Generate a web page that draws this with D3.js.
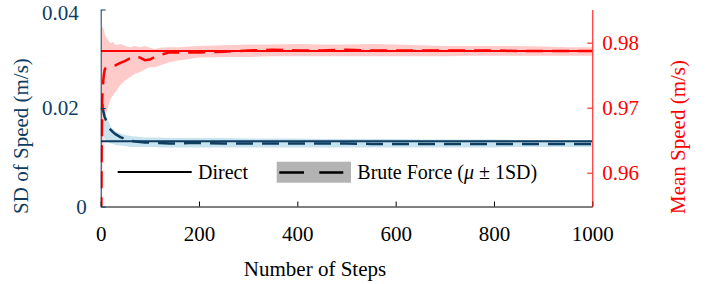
<!DOCTYPE html>
<html>
<head>
<meta charset="utf-8">
<script src="https://cdn.jsdelivr.net/npm/d3@7"></script>
<style>
  body { margin: 0; background: white; }
  svg text { font-family: "Liberation Serif", Tinos, "Times New Roman", Times, "DejaVu Serif", serif; }
</style>
</head>
<body>
<div id="vis"></div>
<script>
// steps of the brute force run
let steps = [1, 2, 3, 4, 6, 8, 10, 15, 20, 25, 30, 40, 50, 60, 70, 80, 90, 100, 110, 120,
  140, 160, 180, 200, 250, 300, 350, 400, 450, 500, 550, 600, 650, 700, 750, 800, 850, 900, 950, 1000]

// mean speed (right axis)
let meanBrute = [0.9496, 0.9635, 0.9712, 0.9730, 0.9748, 0.9758, 0.9761, 0.9763, 0.9763, 0.9764,
  0.9765, 0.9769, 0.9772, 0.9776, 0.9779, 0.9777, 0.9773, 0.9774, 0.9778, 0.9781,
  0.9785, 0.9785, 0.9785, 0.9785, 0.9786, 0.9788, 0.9789, 0.9788, 0.9788, 0.9789,
  0.9788, 0.9788, 0.9788, 0.9788, 0.9788, 0.9788, 0.9787, 0.9787, 0.9787, 0.9787]
let meanUpper = [0.9812, 0.9822, 0.9825, 0.9824, 0.9821, 0.9815, 0.9810, 0.9804, 0.9799, 0.9801,
  0.9796, 0.9798, 0.9795, 0.9793, 0.9795, 0.9793, 0.9795, 0.9792, 0.9790, 0.9792,
  0.9793, 0.9793, 0.9794, 0.9795, 0.9796, 0.9797, 0.9797, 0.9798, 0.9797, 0.9797,
  0.9798, 0.9797, 0.9796, 0.9795, 0.9795, 0.9795, 0.9795, 0.9794, 0.9793, 0.9793]
let meanLower = [0.9465, 0.9527, 0.9573, 0.9619, 0.9658, 0.9678, 0.9688, 0.9702, 0.9713, 0.9719,
  0.9724, 0.9735, 0.9742, 0.9747, 0.9752, 0.9755, 0.9759, 0.9762, 0.9762, 0.9765,
  0.9770, 0.9773, 0.9775, 0.9777, 0.9778, 0.9778, 0.9779, 0.9779, 0.9779, 0.9779,
  0.9779, 0.9779, 0.9779, 0.9779, 0.9780, 0.9780, 0.9780, 0.9780, 0.9780, 0.9780]
let meanDirect = 0.9787

// SD of speed (left axis)
let sdBrute = [null, 0.0216, 0.0208, 0.0200, 0.0190, 0.0182, 0.0177, 0.0164, 0.0156, 0.0151,
  0.0147, 0.0141, 0.0137, 0.0134, 0.0132, 0.0131, 0.0130, 0.0130, 0.0129, 0.0129,
  0.0128, 0.0128, 0.0129, 0.0129, 0.0128, 0.0128, 0.0128, 0.0128, 0.0128, 0.0128,
  0.0127, 0.0127, 0.0127, 0.0127, 0.0127, 0.0127, 0.0127, 0.0127, 0.0127, 0.0127]
let sdUpper = [0.0226, 0.0224, 0.0220, 0.0216, 0.0204, 0.0196, 0.0188, 0.0174, 0.0163, 0.0157,
  0.0153, 0.0148, 0.0145, 0.0143, 0.0142, 0.0141, 0.0140, 0.0140, 0.0140, 0.0140,
  0.0139, 0.0139, 0.0139, 0.0139, 0.0139, 0.0138, 0.0138, 0.0138, 0.0137, 0.0137,
  0.0137, 0.0137, 0.0136, 0.0136, 0.0136, 0.0136, 0.0135, 0.0135, 0.0135, 0.0135]
let sdLower = [0.0135, 0.0145, 0.0149, 0.0147, 0.0141, 0.0137, 0.0135, 0.0131, 0.0128, 0.0127,
  0.0125, 0.0124, 0.0123, 0.0121, 0.0121, 0.0121, 0.0121, 0.0121, 0.0121, 0.0120,
  0.0120, 0.0120, 0.0120, 0.0120, 0.0120, 0.0120, 0.0120, 0.0120, 0.0120, 0.0120,
  0.0120, 0.0120, 0.0120, 0.0120, 0.0120, 0.0120, 0.0121, 0.0121, 0.0121, 0.0121]
let sdDirect = 0.01324

let xTicks = [0, 200, 400, 600, 800, 1000]
let leftTicks = [0, 0.02, 0.04]
let leftTickLabels = ['0', '0.02', '0.04']
let rightTicks = [0.96, 0.97, 0.98]

let blue = '#0f3d5f', lightBlue = '#c8e3f0', red = '#ff0000', pink = '#ffcaca'
let serif = '"Liberation Serif", Tinos, "Times New Roman", Times, "DejaVu Serif", serif'

let margin = { top: 9.5, left: 100.7, right: 116.7, bottom: 77.5 },
  width = 709 - margin.left - margin.right,
  height = 284 - margin.top - margin.bottom

let svg = d3.select('#vis')
  .append('svg')
  .attr('width', 709)
  .attr('height', 284)
  .style('display', 'block')

let g = svg.append('g').attr('transform', `translate(${margin.left},${margin.top})`)

let x = d3.scaleLinear().domain([0, 1000]).range([0, width])
let yL = d3.scaleLinear().domain([0, 0.04]).range([height, 0])
let yR = d3.scaleLinear().domain([0.9548, 0.9851]).range([height, 0])

g.append('clipPath').attr('id', 'clip')
  .append('rect').attr('width', width).attr('height', height)

let plot = g.append('g').attr('clip-path', 'url(#clip)')

// bands
plot.append('path')
  .datum(steps)
  .attr('fill', lightBlue)
  .attr('d', d3.area()
    .x(d => x(d))
    .y0((d, i) => yL(sdLower[i]))
    .y1((d, i) => yL(sdUpper[i])))

plot.append('path')
  .datum(steps)
  .attr('fill', pink)
  .attr('d', d3.area()
    .x(d => x(d))
    .y0((d, i) => yR(meanLower[i]))
    .y1((d, i) => yR(meanUpper[i])))

// direct lines
plot.append('line')
  .attr('x1', x(0)).attr('x2', x(1000))
  .attr('y1', yL(sdDirect)).attr('y2', yL(sdDirect))
  .attr('stroke', blue).attr('stroke-width', 2)

plot.append('line')
  .attr('x1', x(0)).attr('x2', x(1000))
  .attr('y1', yR(meanDirect)).attr('y2', yR(meanDirect))
  .attr('stroke', red).attr('stroke-width', 2)

// brute force dashed lines
plot.append('path')
  .datum(steps)
  .attr('fill', 'none')
  .attr('stroke', blue)
  .attr('stroke-width', 2.5)
  .attr('stroke-dasharray', '17,9')
  .attr('stroke-dashoffset', 22)
  .attr('d', d3.line()
    .defined((d, i) => sdBrute[i] != null)
    .x(d => x(d))
    .y((d, i) => yL(sdBrute[i])))

plot.append('path')
  .datum(steps)
  .attr('fill', 'none')
  .attr('stroke', red)
  .attr('stroke-width', 2.5)
  .attr('stroke-dasharray', '17,9')
  .attr('d', d3.line()
    .x(d => x(d))
    .y((d, i) => yR(meanBrute[i])))

// axes
let xAxis = g.append('g')
  .attr('transform', `translate(0,${height})`)
  .call(d3.axisBottom(x).tickValues(xTicks).tickFormat(d3.format('d'))
    .tickSizeInner(-5).tickSizeOuter(0).tickPadding(20))
xAxis.selectAll('path, line').attr('stroke', 'black')
xAxis.selectAll('text').attr('fill', 'black')

let leftAxis = g.append('g')
  .call(d3.axisLeft(yL).tickValues(leftTicks).tickFormat((d, i) => leftTickLabels[i])
    .tickSizeInner(-5).tickSizeOuter(0).tickPadding(22))
leftAxis.selectAll('path, line').attr('stroke', blue)
leftAxis.selectAll('text').attr('fill', blue)
  .attr('dx', d => d === 0 ? 8 : 0)
  .attr('dy', d => d === 0.04 ? '0.47em' : '0.32em')

let rightAxis = g.append('g')
  .attr('transform', `translate(${width},0)`)
  .call(d3.axisRight(yR).tickValues(rightTicks).tickFormat(d3.format('.2f'))
    .tickSizeInner(-5).tickSizeOuter(0).tickPadding(10))
rightAxis.selectAll('path, line').attr('stroke', red)
rightAxis.selectAll('text').attr('fill', red)

svg.selectAll('g').attr('font-family', serif)
svg.selectAll('.tick text')
  .attr('font-family', serif)
  .style('font-size', '21px')

// axis titles
svg.append('text')
  .attr('transform', 'translate(28,136) rotate(-90)')
  .attr('text-anchor', 'middle')
  .attr('fill', blue)
  .attr('font-family', serif)
  .style('font-size', '21px')
  .text('SD of Speed (m/s)')

svg.append('text')
  .attr('transform', 'translate(685,137) rotate(-90)')
  .attr('text-anchor', 'middle')
  .attr('fill', red)
  .attr('font-family', serif)
  .style('font-size', '21px')
  .text('Mean Speed (m/s)')

svg.append('text')
  .attr('x', 315)
  .attr('y', 276)
  .attr('text-anchor', 'middle')
  .attr('font-family', serif)
  .style('font-size', '21px')
  .text('Number of Steps')

// legend
let legend = svg.append('g')
legend.append('line')
  .attr('x1', 117.7).attr('x2', 191.7).attr('y1', 172).attr('y2', 172)
  .attr('stroke', 'black').attr('stroke-width', 2)
legend.append('text')
  .attr('x', 198).attr('y', 179)
  .attr('font-family', serif)
  .style('font-size', '20px')
  .text('Direct')

legend.append('rect')
  .attr('x', 276.7).attr('y', 161.7).attr('width', 74.3).attr('height', 21)
  .attr('fill', '#b3b3b3')
legend.append('line')
  .attr('x1', 279.3).attr('x2', 343.3).attr('y1', 172.5).attr('y2', 172.5)
  .attr('stroke', 'black').attr('stroke-width', 2.3)
  .attr('stroke-dasharray', '24.7,15.3')
let bf = legend.append('text')
  .attr('x', 357.3).attr('y', 179)
  .attr('font-family', serif)
  .style('font-size', '20px')
bf.append('tspan').text('Brute Force (')
bf.append('tspan').style('font-style', 'italic').text('μ')
bf.append('tspan').text(' ± 1SD)')
</script>
</body>
</html>
